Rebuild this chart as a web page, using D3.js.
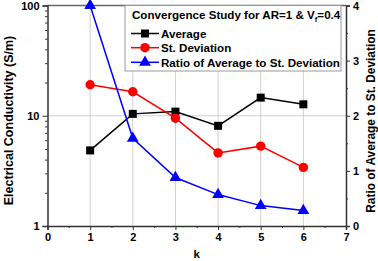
<!DOCTYPE html>
<html><head><meta charset="utf-8">
<script src="https://cdn.jsdelivr.net/npm/d3@7"></script>
<style>
body{margin:0;background:#fff;}
text{font-family:"Liberation Sans",Arial,sans-serif;font-weight:bold;}
</style></head>
<body><svg id="c" width="378" height="261"></svg>
<script>
const kValues = [1, 2, 3, 4, 5, 6];
const averageValues = [4.85, 10.4, 10.9, 8.1, 14.6, 12.7];
const stDevValues = [19.1, 16.5, 9.5, 4.6, 5.3, 3.4];
const ratioValues = [4.0, 1.59, 0.88, 0.57, 0.37, 0.28];
const xTicks = [0, 1, 2, 3, 4, 5, 6, 7];
const leftTicks = [1, 10, 100];
const rightTicks = [0, 1, 2, 3, 4];

const svg = d3.select("#c");
const L = 47.5, R = 346, T = 5.5, B = 226;
const x = d3.scaleLinear().domain([0, 7]).range([L, R]);
const yL = d3.scaleLog().domain([1, 100]).range([B, T]);
const yR = d3.scaleLinear().domain([0, 4]).range([B, T]);

// grid
const grid = svg.append("g").attr("stroke", "#d0d0d0").attr("stroke-width", 1);
kValues.forEach(k => grid.append("line").attr("x1", x(k)).attr("x2", x(k)).attr("y1", T).attr("y2", B));
grid.append("line").attr("x1", L).attr("x2", R).attr("y1", yL(10)).attr("y2", yL(10));

// top frame
svg.append("line").attr("x1", L).attr("x2", R).attr("y1", T).attr("y2", T).attr("stroke", "#666").attr("stroke-width", 1.5);

// bottom axis
const xAxis = d3.axisBottom(x).tickValues(xTicks).tickFormat(d3.format("d")).tickSize(4).tickPadding(3);
const gx = svg.append("g").attr("transform", `translate(0,${B})`).call(xAxis);
gx.selectAll("text").attr("font-size", 11).attr("fill", "#000");
const xMinor = d3.axisBottom(x).tickValues(d3.range(0.5, 7, 1)).tickFormat("").tickSize(2);
svg.append("g").attr("transform", `translate(0,${B})`).call(xMinor).select(".domain").remove();

// left axis
const leftAxis = d3.axisLeft(yL).tickValues(leftTicks).tickFormat(d3.format("d")).tickSize(5).tickPadding(3);
const gl = svg.append("g").attr("transform", `translate(${L},0)`).call(leftAxis);
gl.selectAll("text").attr("font-size", 11).attr("fill", "#000");
const minorL = [2,3,4,5,6,7,8,9,20,30,40,50,60,70,80,90];
svg.append("g").attr("transform", `translate(${L},0)`).call(d3.axisLeft(yL).tickValues(minorL).tickFormat("").tickSize(2.5)).select(".domain").remove();

// right axis
const rightAxis = d3.axisRight(yR).tickValues(rightTicks).tickFormat(d3.format("d")).tickSize(4).tickPadding(3);
const gr = svg.append("g").attr("transform", `translate(${R},0)`).call(rightAxis);
gr.selectAll("text").attr("font-size", 11).attr("fill", "#000");
svg.append("g").attr("transform", `translate(${R},0)`).call(d3.axisRight(yR).tickValues(d3.range(0.5, 4, 1)).tickFormat("").tickSize(2)).select(".domain").remove();

svg.selectAll(".domain").attr("stroke", "#333").attr("stroke-width", 1.5);
svg.selectAll(".tick line").attr("stroke", "#333");

// axis labels
svg.append("text").attr("transform", `translate(12.5,120.5) rotate(-90)`).attr("text-anchor", "middle").attr("font-size", 12.5).text("Electrical Conductivity (S/m)");
svg.append("text").attr("transform", `translate(375,121) rotate(-90)`).attr("text-anchor", "middle").attr("font-size", 11.9).text("Ratio of Average to St. Deviation");
svg.append("text").attr("x", x(3.5)).attr("y", 258).attr("text-anchor", "middle").attr("font-size", 11.5).text("k");

// series
const lineL = d3.line().x((d, i) => x(kValues[i])).y(d => yL(d));
const lineR = d3.line().x((d, i) => x(kValues[i])).y(d => yR(d));
const sq = d3.symbol().type(d3.symbolSquare).size(64);
const ci = d3.symbol().type(d3.symbolCircle).size(70);
const tr = d3.symbol().type(d3.symbolTriangle).size(60);

function series(vals, lineFn, yS, color, sym) {
  svg.append("path").attr("d", lineFn(vals)).attr("fill", "none").attr("stroke", color).attr("stroke-width", 1.5);
  svg.append("g").selectAll("path").data(vals).join("path")
    .attr("d", sym).attr("fill", color)
    .attr("transform", (d, i) => `translate(${x(kValues[i])},${yS(d)})`);
}
series(averageValues, lineL, yL, "#000", sq);
series(stDevValues, lineL, yL, "#ff0000", ci);
series(ratioValues, lineR, yR, "#0000ff", tr);

// legend
const lg = svg.append("g");
lg.append("rect").attr("x", 125).attr("y", T).attr("width", 216).attr("height", 65.5).attr("fill", "#fff").attr("stroke", "#999").attr("stroke-width", 1);
const title = lg.append("text").attr("x", 132).attr("y", 19).attr("font-size", 11.6);
title.append("tspan").text("Convergence Study for AR=1 & V");
title.append("tspan").attr("font-size", 7.5).attr("dy", 2.5).text("f");
title.append("tspan").attr("dy", -2.5).text("=0.4");
const items = [["Average", "#000", sq], ["St. Deviation", "#ff0000", ci], ["Ratio of Average to St. Deviation", "#0000ff", tr]];
const rowY = [33.5, 47.7, 62.3];
items.forEach((it, i) => {
  lg.append("line").attr("x1", 131).attr("x2", 159).attr("y1", rowY[i]).attr("y2", rowY[i]).attr("stroke", it[1]).attr("stroke-width", 1.5);
  lg.append("path").attr("d", it[2]).attr("fill", it[1]).attr("transform", `translate(145,${rowY[i]})`);
  lg.append("text").attr("x", 161).attr("y", rowY[i] + 4.2).attr("font-size", 11.6).text(it[0]);
});
</script></body></html>
